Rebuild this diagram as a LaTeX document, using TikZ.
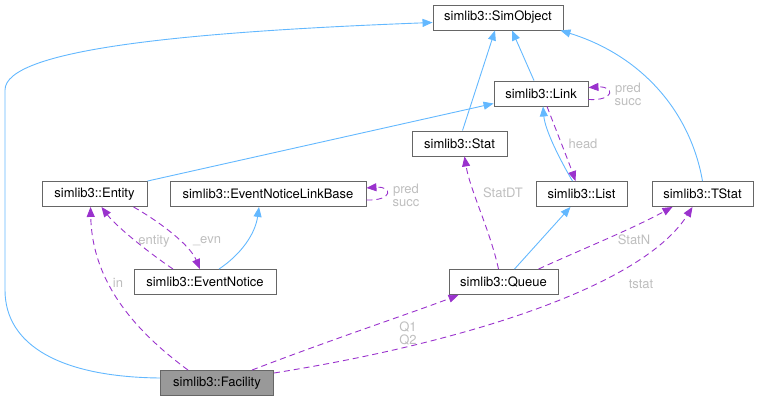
\documentclass[tikz,border=0pt]{standalone}
\usepackage{fontspec}
\setmainfont{TeX Gyre Heros}
\usetikzlibrary{arrows.meta}
\definecolor{inhblue}{HTML}{63B8FF}
\definecolor{usepurple}{HTML}{9A32CD}
\definecolor{boxgray}{HTML}{666666}
\definecolor{lblgray}{HTML}{BEBEBE}
\definecolor{focusgray}{HTML}{999999}

\begin{document}
\begin{tikzpicture}[
	x=1pt, y=-1pt,
	font=\fontsize{13}{13}\selectfont,
	classbox/.style={draw=boxgray, line width=0.9pt, fill=white, rectangle, minimum height=25pt, inner sep=0pt},
	focusbox/.style={classbox, fill=focusgray},
	inherit/.style={draw=inhblue, line width=0.9pt, -{Triangle[length=10pt,width=8pt]}},
	usage/.style={draw=usepurple, line width=0.9pt, dash pattern=on 6pt off 4pt, -{Triangle[length=10pt,width=8pt]}},
	lbl/.style={text=lblgray, align=center, inner sep=0pt}
	]
	\useasboundingbox (0,0) rectangle (759,401);
	
	% Classi (righe dall'alto in basso)
	\node[classbox, minimum width=130pt] (simobject) at (498,17.5) {simlib3::SimObject};
	\node[classbox, minimum width=94pt] (link) at (541,93.5) {simlib3::Link};
	\node[classbox, minimum width=95pt] (stat) at (459.5,143.5) {simlib3::Stat};
	\node[classbox, minimum width=105pt] (entity) at (94.5,194) {simlib3::Entity};
	\node[classbox, minimum width=196pt] (enlb) at (268,194) {simlib3::EventNoticeLinkBase};
	\node[classbox, minimum width=91pt] (list) at (581.5,194) {simlib3::List};
	\node[classbox, minimum width=101pt] (tstat) at (702.5,194) {simlib3::TStat};
	\node[classbox, minimum width=142pt] (evnotice) at (205,282) {simlib3::EventNotice};
	\node[classbox, minimum width=109pt] (queue) at (503.5,282) {simlib3::Queue};
	\node[focusbox, minimum width=113pt] (facility) at (217,383) {simlib3::Facility};
	
	% Ereditarieta' (blu)
	\draw[inherit] ([yshift=5pt]facility.west) .. controls (60,377) and (5,345) .. (5,290) -- (5,90)
		.. controls (5,50) and (180,32) .. ([yshift=-5pt]simobject.west);
	\draw[inherit] ([xshift=-7pt]link.north) -- ([xshift=14pt]simobject.south);
	\draw[inherit] ([xshift=3pt]stat.north) -- ([xshift=-3pt]simobject.south);
	\draw[inherit] (tstat.north) .. controls (690,110) and (640,55) .. ([xshift=-3pt]simobject.south east);
	\draw[inherit] (entity.north east) -- ([yshift=-10pt]link.west);
	\draw[inherit] ([xshift=-9pt]list.north) .. controls (560,160) and (545,130) .. ([xshift=2pt]link.south);
	\draw[inherit] ([xshift=14pt]evnotice.north) .. controls (240,255) and (255,235) .. ([xshift=-9pt]enlb.south);
	\draw[inherit] ([xshift=11pt]queue.north) -- ([xshift=-11pt]list.south);
	
	% Associazioni (viola, tratteggiate)
	\draw[usage] ([yshift=-6pt]link.east) .. controls (615,101) and (615,86) .. ([yshift=6pt]link.east);
	\node[lbl] (linkps) at (628,94.5) {pred\\succ};
	\draw[usage] ([xshift=6pt]link.south) .. controls (556,130) and (568,160) .. ([xshift=-6pt]list.north);
	\node[lbl] (headl) at (583,144) {head};
	
	\draw[usage] ([yshift=-6pt]enlb.east) .. controls (393,201) and (393,186) .. ([yshift=6pt]enlb.east);
	\node[lbl] (enlbps) at (406,195) {pred\\succ};
	
	\draw[usage] ([xshift=-32pt]evnotice.north) .. controls (145,250) and (115,225) .. ([xshift=7pt]entity.south);
	\node[lbl] (entityl) at (154,241) {entity};
	\draw[usage] ([xshift=39pt]entity.south) .. controls (160,222) and (190,245) .. ([xshift=-5pt]evnotice.north);
	\node[lbl] (evnl) at (207,241) {\_evn};
	
	\draw[usage] ([xshift=-29pt]facility.north) .. controls (120,320) and (92,270) .. ([xshift=-4pt]entity.south);
	\node[lbl] (inl) at (118,283) {in};
	\draw[usage] ([xshift=35pt]facility.north) .. controls (330,340) and (420,310) .. ([xshift=-45pt]queue.south);
	\node[lbl] (ql) at (408,333.5) {Q1\\Q2};
	\draw[usage] ([yshift=10pt]facility.east) .. controls (450,345) and (640,290) .. ([xshift=-10pt]tstat.south);
	\node[lbl] (tstatl) at (641,284) {tstat};
	
	\draw[usage] ([xshift=-5pt]queue.north) .. controls (490,230) and (470,190) .. ([xshift=5pt]stat.south);
	\node[lbl] (statdtl) at (503,193) {StatDT};
	\draw[usage] ([xshift=35pt]queue.north) .. controls (580,250) and (630,230) .. ([xshift=-30pt]tstat.south);
	\node[lbl] (statnl) at (634,240) {StatN};
	
\end{tikzpicture}
\end{document}
